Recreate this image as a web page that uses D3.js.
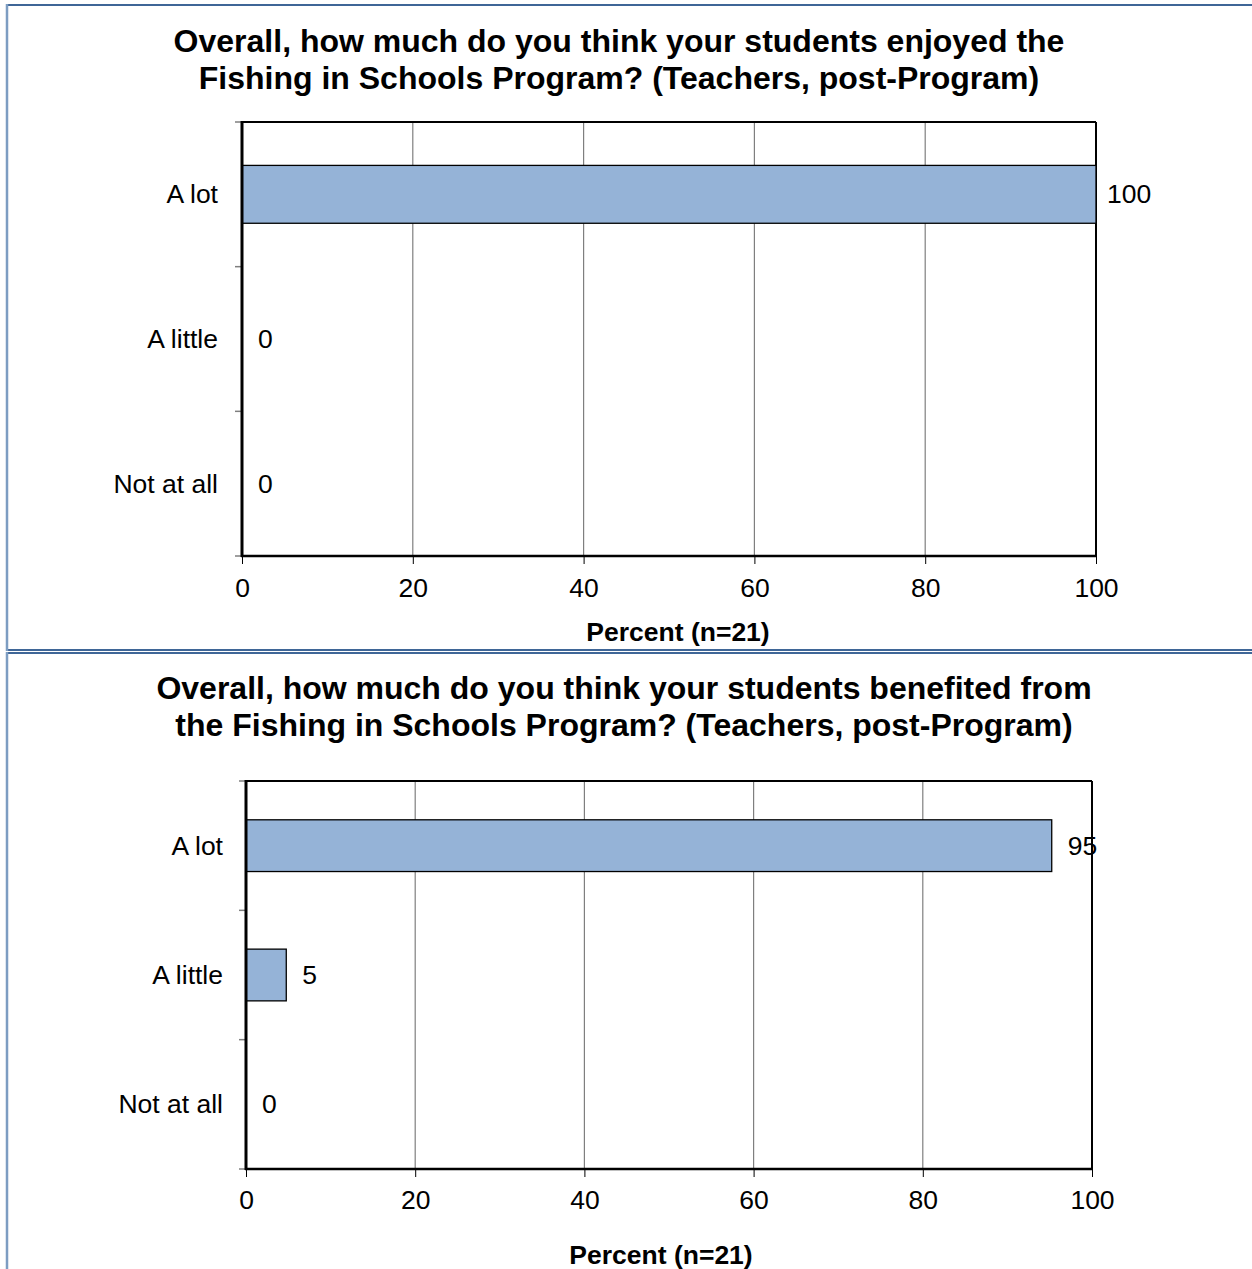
<!DOCTYPE html>
<html>
<head>
<meta charset="utf-8">
<script src="https://cdn.jsdelivr.net/npm/d3@7"></script>
<style>
  html, body { margin: 0; padding: 0; background: #fff; }
  svg { display: block; font-family: "Liberation Sans", Arial, sans-serif; }
</style>
</head>
<body>
<svg id="chart" width="1252" height="1269"></svg>
<script>
// ---- data ----
const categories = ["A lot", "A little", "Not at all"];
const enjoyedValues = [100, 0, 0];
const benefitedValues = [95.24, 4.76, 0];
const xTickValues = [0, 20, 40, 60, 80, 100];
const title1Lines = ["Overall, how much do you think your students enjoyed the",
                     "Fishing in Schools Program? (Teachers, post-Program)"];
const title2Lines = ["Overall, how much do you think your students benefited from",
                     "the Fishing in Schools Program? (Teachers, post-Program)"];
const axisTitle = "Percent (n=21)";

const svg = d3.select("#chart");

// panel frames
function panel(y0, y1) {
  const g = svg.append("g");
  g.append("line").attr("x1", 7).attr("x2", 1260).attr("y1", y0).attr("y2", y0)
    .attr("stroke", "#3f6697").attr("stroke-width", 2);
  if (y1 != null) {
    g.append("line").attr("x1", 7).attr("x2", 1260).attr("y1", y1).attr("y2", y1)
      .attr("stroke", "#3f6697").attr("stroke-width", 2);
  }
  g.append("line").attr("x1", 7).attr("x2", 7).attr("y1", y0 - 1).attr("y2", y1 == null ? 1280 : y1 + 1)
    .attr("stroke", "#7d9dc2").attr("stroke-width", 2.5);
}
panel(5, 650);
panel(653, null);

function drawChart(opt) {
  const { left, right, top, bottom, values, titleLines, titleX, titleY, tickY, axisTitleX, axisTitleY, labelX } = opt;
  const g = svg.append("g");

  const x = d3.scaleLinear().domain([0, 100]).range([left, right]);
  const y = d3.scaleBand().domain(categories).range([top, bottom]).paddingInner(0).paddingOuter(0);
  const barH = y.bandwidth() * 0.4;

  // title
  titleLines.forEach((t, i) => {
    g.append("text").attr("x", titleX).attr("y", titleY + i * 36.5)
      .attr("text-anchor", "middle").attr("font-size", 32).attr("font-weight", "bold")
      .attr("fill", "#000").text(t);
  });

  // gridlines
  g.append("g").selectAll("line").data(xTickValues.filter(v => v > 0 && v < 100)).join("line")
    .attr("x1", d => x(d)).attr("x2", d => x(d)).attr("y1", top).attr("y2", bottom)
    .attr("stroke", "#7f7f7f").attr("stroke-width", 1.2);

  // frame top & right
  g.append("line").attr("x1", left).attr("x2", right).attr("y1", top).attr("y2", top)
    .attr("stroke", "#000").attr("stroke-width", 2);
  g.append("line").attr("x1", right).attr("x2", right).attr("y1", top).attr("y2", bottom)
    .attr("stroke", "#000").attr("stroke-width", 2);

  // bars
  g.append("g").selectAll("rect").data(categories.map((c, i) => ({ c, v: values[i] }))).join("rect")
    .filter(d => d.v > 0)
    .attr("x", left).attr("y", d => y(d.c) + (y.bandwidth() - barH) / 2)
    .attr("width", d => x(d.v) - left).attr("height", barH)
    .attr("fill", "#95b3d7").attr("stroke", "#000").attr("stroke-width", 1.3);

  // value labels
  g.append("g").selectAll("text").data(categories.map((c, i) => ({ c, v: values[i] }))).join("text")
    .attr("x", d => x(d.v) + (d.v >= 99.5 ? 11 : 16)).attr("y", d => y(d.c) + y.bandwidth() / 2 + 9)
    .attr("font-size", 26.5).attr("fill", "#000").text(d => Math.round(d.v));

  // x axis
  const xAxis = d3.axisBottom(x).tickValues(xTickValues).tickSize(8).tickPadding(0).tickFormat(d3.format("d"));
  const xg = g.append("g").attr("transform", `translate(0,${bottom})`).call(xAxis);
  xg.select(".domain").remove();
  xg.selectAll(".tick line").attr("stroke", "#000").attr("stroke-width", 1);
  xg.selectAll(".tick text").attr("font-size", 26.5).attr("fill", "#000")
    .attr("dy", null).attr("y", tickY - bottom);
  g.append("line").attr("x1", left - 1).attr("x2", right + 1).attr("y1", bottom).attr("y2", bottom)
    .attr("stroke", "#000").attr("stroke-width", 2.5);

  // y axis
  const ticksY = categories.map(c => y(c)).concat([bottom]);
  g.append("g").selectAll("line").data(ticksY).join("line")
    .attr("x1", left - 7).attr("x2", left).attr("y1", d => d).attr("y2", d => d)
    .attr("stroke", "#7f7f7f").attr("stroke-width", 1.5);
  g.append("line").attr("x1", left).attr("x2", left).attr("y1", top - 1).attr("y2", bottom + 1)
    .attr("stroke", "#000").attr("stroke-width", 3);
  g.append("g").selectAll("text").data(categories).join("text")
    .attr("x", labelX).attr("y", d => y(d) + y.bandwidth() / 2 + 9)
    .attr("text-anchor", "end").attr("font-size", 26.5).attr("fill", "#000").text(d => d);

  // axis title
  g.append("text").attr("x", axisTitleX).attr("y", axisTitleY)
    .attr("text-anchor", "middle").attr("font-size", 26.5).attr("font-weight", "bold")
    .attr("fill", "#000").text(axisTitle);
}

drawChart({ left: 242, right: 1096, top: 122, bottom: 556, values: enjoyedValues,
  titleLines: title1Lines, titleX: 619, titleY: 52, tickY: 597, axisTitleX: 678, axisTitleY: 641, labelX: 218 });
drawChart({ left: 246, right: 1092, top: 781, bottom: 1169, values: benefitedValues,
  titleLines: title2Lines, titleX: 624, titleY: 699, tickY: 1209, axisTitleX: 661, axisTitleY: 1264, labelX: 223 });
</script>
</body>
</html>
